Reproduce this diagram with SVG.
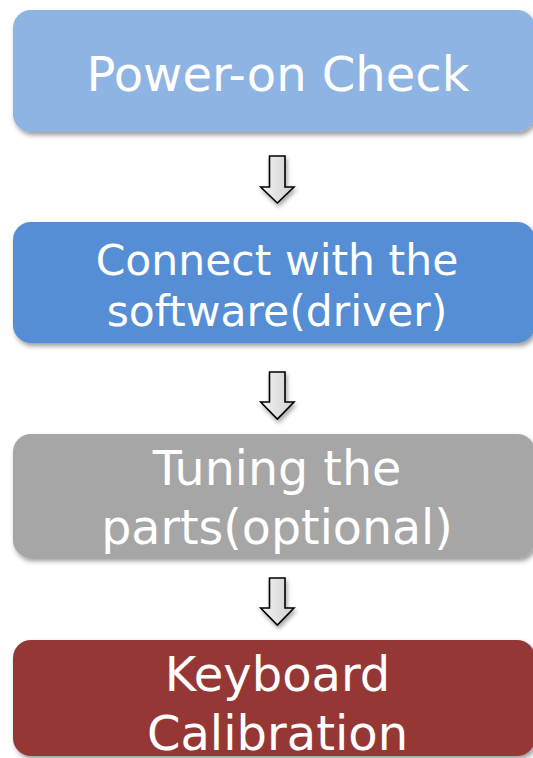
<svg xmlns="http://www.w3.org/2000/svg" width="533" height="758" viewBox="0 0 533 758">
<style>
.lbl{font-family:"DejaVu Sans",Verdana,sans-serif;fill:#fff;text-anchor:middle}
.arrow{fill:url(#ag);stroke:#000;stroke-width:1.6;stroke-linejoin:miter}
</style>
<defs>
<filter id="sh" x="-10%" y="-10%" width="120%" height="130%">
<feDropShadow dx="2" dy="3" stdDeviation="2.5" flood-color="#000" flood-opacity="0.4"/>
</filter>
<filter id="ash" x="-30%" y="-30%" width="160%" height="160%">
<feDropShadow dx="1.5" dy="3" stdDeviation="2" flood-color="#000" flood-opacity="0.35"/>
</filter>
<linearGradient id="ag" x1="0" y1="0" x2="1" y2="0">
<stop offset="0" stop-color="#f4f4f4"/>
<stop offset="1" stop-color="#cfcfcf"/>
</linearGradient>
</defs>
<g id="node-power">
<rect x="13" y="10" width="522" height="122" rx="18" fill="#8EB4E3" filter="url(#sh)"/>
<text class="lbl" x="278" y="91" font-size="48">Power-on Check</text>
</g>
<g id="node-connect">
<rect x="13" y="222" width="522" height="121" rx="18" fill="#558ED5" filter="url(#sh)"/>
<text class="lbl" x="277" y="275" font-size="42.5">Connect with the</text>
<text class="lbl" x="277" y="326" font-size="42.5">software(driver)</text>
</g>
<g id="node-tuning">
<rect x="13" y="434" width="522" height="124" rx="18" fill="#A6A6A6" filter="url(#sh)"/>
<text class="lbl" x="277" y="485" font-size="47.5">Tuning the</text>
<text class="lbl" x="277" y="544" font-size="47.5">parts(optional)</text>
</g>
<g id="node-keyboard">
<rect x="13" y="640" width="522" height="116" rx="18" fill="#953735" filter="url(#sh)"/>
<text class="lbl" x="277.5" y="691" font-size="48">Keyboard</text>
<text class="lbl" x="277.5" y="750" font-size="48">Calibration</text>
</g>
<g id="connectors" filter="url(#ash)">
<polygon class="arrow" points="269.5,156 285,156 285,187 294,187 277.3,203 260.7,187 269.5,187"/>
<polygon class="arrow" points="269.5,372 285,372 285,402 294,402 277.3,419 260.7,402 269.5,402"/>
<polygon class="arrow" points="269.5,578 285,578 285,608 294,608 277.3,625 260.7,608 269.5,608"/>
</g>
</svg>
